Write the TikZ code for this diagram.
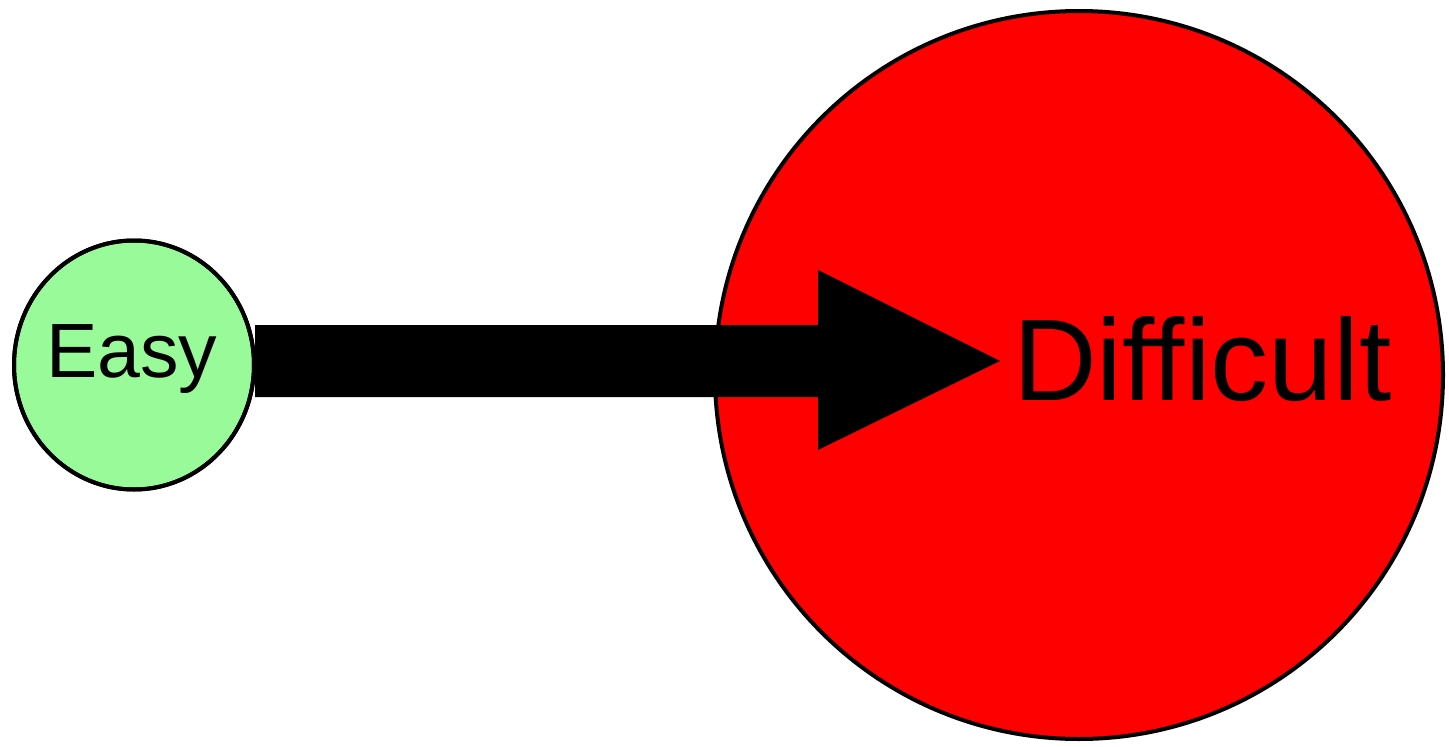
\documentclass[tikz,border=0pt]{standalone}
\usepackage{fontspec}
\setmainfont{Liberation Sans}
\usetikzlibrary{shapes.geometric,calc}
\definecolor{easygreen}{RGB}{153,250,153}
\definecolor{hardred}{RGB}{255,0,0}
\tikzset{
  bubble/.style={draw=black, line width=4pt, inner sep=0pt},
  label text/.style={inner sep=0pt, anchor=base west, text=black},
  bigarrow/.style={fill=black, draw=none}
}
\begin{document}
\begin{tikzpicture}[x=1pt,y=-1pt]
\useasboundingbox (0,0) rectangle (1449,747);
% big red circle
\node[bubble, circle, fill=hardred, minimum size=728pt] (hard) at (1079,375) {};
% apex coordinate of the arrow and head base
\coordinate (tip) at (1000,361);
\coordinate (head) at (818,361);
% small green circle
\node[bubble, ellipse, fill=easygreen, minimum width=240pt, minimum height=249pt] (easy) at (134,365) {};
% arrow connector from easy to tip
\fill[bigarrow] ($(easy.east |- tip)+(-1,-36)$) -- ($(head)+(0,-36)$) -- ($(head)+(0,-91)$) -- (tip)
  -- ($(head)+(0,89)$) -- ($(head)+(0,36)$) -- ($(easy.east |- tip)+(-1,36)$) -- cycle;
% redraw easy circle border over the arrow end
\draw[line width=4pt] (easy.center) ellipse [x radius=120pt, y radius=124.5pt];
% labels
\node[label text, font=\fontsize{77}{92}\selectfont] (easytxt) at (46,377) {Easy};
\node[label text, font=\fontsize{116}{138}\selectfont] (hardtxt) at (1013,400) {Difficult};
\end{tikzpicture}
\end{document}
